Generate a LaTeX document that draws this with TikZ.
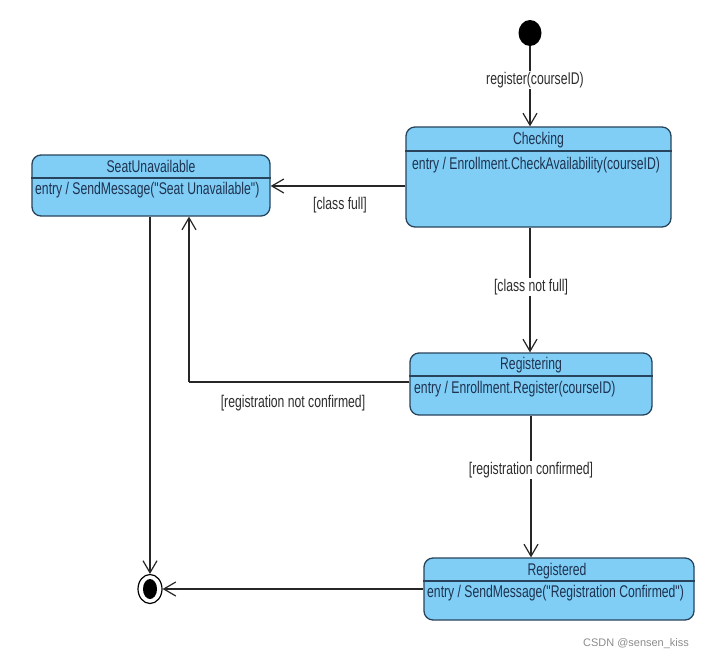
\documentclass[tikz,border=0pt]{standalone}
\usepackage{fontspec}
\setmainfont{Liberation Sans}
\newfontfamily\narrowfont[FakeStretch=0.72]{Liberation Sans}
\usetikzlibrary{arrows.meta,shapes.geometric}
\definecolor{stfill}{RGB}{128,206,245}
\definecolor{stbord}{RGB}{40,68,92}
\definecolor{sttext}{RGB}{30,50,80}
\definecolor{lbltext}{RGB}{45,45,45}
\tikzset{
  state/.style={draw=stbord, fill=stfill, rounded corners=9bp, line width=1.3bp, inner sep=0pt},
  hdr/.style={draw=stbord, line width=1.3bp},
  title/.style={inner sep=0pt, text=sttext, font=\narrowfont\fontsize{17}{19}\selectfont},
  entrytxt/.style={inner sep=0pt, anchor=west, text=sttext, font=\narrowfont\fontsize{17}{19}\selectfont},
  lbl/.style={inner sep=1.5bp, fill=white, text=lbltext, font=\narrowfont\fontsize{17}{19}\selectfont},
  tr/.style={draw=black!85, line width=1.2bp, -{Straight Barb[length=12bp,width=14bp,line width=1.2bp]}},
  ln/.style={draw=black!85, line width=1.2bp}
}
\begin{document}
\begin{tikzpicture}[x=1bp,y=-1bp]
\useasboundingbox[fill=white] (0,0) rectangle (711,657);

% initial state
\node[ellipse, fill=black, minimum width=23bp, minimum height=26bp, inner sep=0pt] (init) at (530,33) {};

% Checking
\node[state, minimum width=265bp, minimum height=100bp] (chk) at (538.5,177) {};
\draw[hdr] (chk.west |- 0,151) -- (chk.east |- 0,151);
\node[title] (chkT) at (538.5,140) {Checking};
\node[entrytxt] (chkE) at (412,165) {entry / Enrollment.CheckAvailability(courseID)};

% SeatUnavailable
\node[state, minimum width=238bp, minimum height=61bp] (seat) at (151,185.5) {};
\draw[hdr] (seat.west |- 0,178) -- (seat.east |- 0,178);
\node[title] (seatT) at (151,166) {SeatUnavailable};
\node[entrytxt] (seatE) at (35,190) {entry / SendMessage("Seat Unavailable")};

% Registering
\node[state, minimum width=242bp, minimum height=62bp] (reg) at (531,384) {};
\draw[hdr] (reg.west |- 0,376) -- (reg.east |- 0,376);
\node[title] (regT) at (531,365) {Registering};
\node[entrytxt] (regE) at (414,389) {entry / Enrollment.Register(courseID)};

% Registered
\node[state, minimum width=270bp, minimum height=62bp] (regd) at (559,589) {};
\draw[hdr] (regd.west |- 0,581) -- (regd.east |- 0,581);
\node[title] (regdT) at (557,571) {Registered};
\node[entrytxt] (regdE) at (427,593) {entry / SendMessage("Registration Confirmed")};

% final state
\node[ellipse, draw=black, line width=1.2bp, fill=white, minimum width=24bp, minimum height=29bp, inner sep=0pt] (fin) at (150,589) {};
\node[ellipse, fill=black, minimum width=14bp, minimum height=20bp, inner sep=0pt] (finC) at (fin) {};

% connectors
\coordinate (vx) at (530,0);
\coordinate (vy) at (531,0);
\coordinate (rs) at (189,382);
\coordinate (hs) at (0,186);

\draw[tr] (init) -- (vx |- chk.north);
\node[lbl] (l1) at (535,80) {register(courseID)};

\draw[tr] (chk.west |- hs) -- (seat.east |- hs);
\node[lbl] (l2) at (340,205) {[class full]};

\draw[ln] (vx |- chk.south) -- (vx |- 0,300);
\draw[tr] (vx |- 0,280) -- (vx |- reg.north);
\node[lbl] (l3) at (531,287) {[class not full]};

\draw[ln] (reg.west |- rs) -- (rs);
\draw[tr] (rs) -- (rs |- seat.south);
\node[lbl] (l4) at (293,403) {[registration not confirmed]};

\draw[ln] (vy |- reg.south) -- (vy |- 0,480);
\draw[tr] (vy |- 0,460) -- (vy |- regd.north);
\node[lbl] (l5) at (531,470) {[registration confirmed]};

\draw[tr] (fin |- seat.south) -- (fin.north);
\draw[tr] (regd.west |- fin) -- (fin.east);

\node[text=black!45, inner sep=0pt, font=\fontsize{11}{13}\selectfont] (wm) at (636,644) {CSDN @sensen\_kiss};
\end{tikzpicture}
\end{document}
